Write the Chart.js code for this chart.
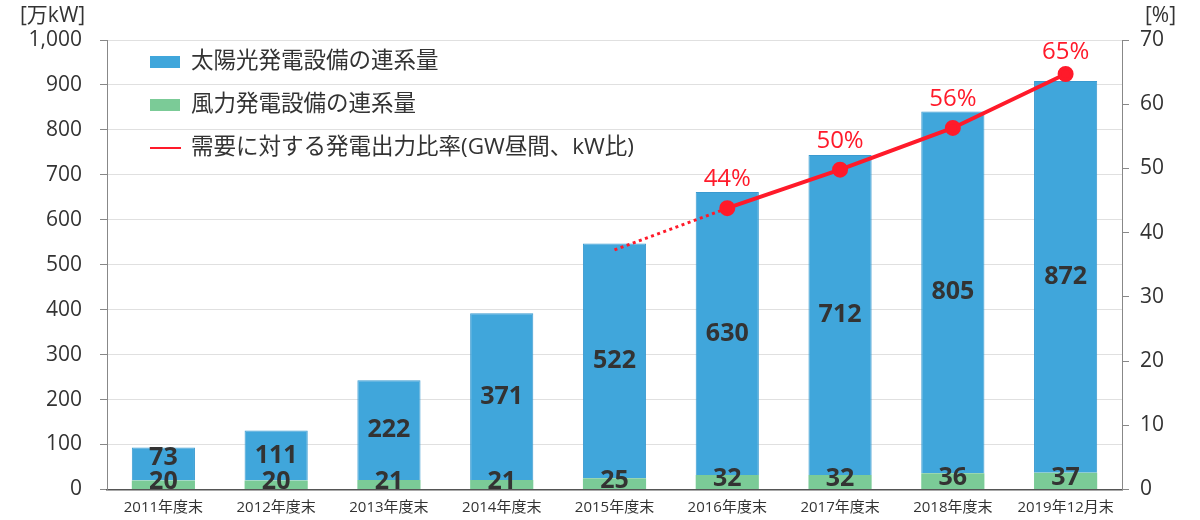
<!DOCTYPE html>
<html>
<head>
<meta charset="utf-8">
<script src="https://cdn.jsdelivr.net/npm/chart.js@4/dist/chart.umd.min.js"></script>
<style>
  html, body { margin: 0; padding: 0; background: #fff; }
  #wrap { width: 1200px; height: 520px; position: relative; }
</style>
</head>
<body>
<div id="wrap"><canvas id="chart"></canvas></div>
<script>
const categories = ["2011年度末", "2012年度末", "2013年度末", "2014年度末", "2015年度末",
  "2016年度末", "2017年度末", "2018年度末", "2019年12月末"];
const solar = [73, 111, 222, 371, 522, 630, 712, 805, 872];
const wind = [20, 20, 21, 21, 25, 32, 32, 36, 37];
// ratio of output to demand; 2015 is only the start of the dotted part
const ratio = [null, null, null, null, 37.3, 43.8, 49.8, 56.3, 64.7];
const ratioLabels = [null, null, null, null, null, "44%", "50%", "56%", "65%"];
const leftTicks = [0, 100, 200, 300, 400, 500, 600, 700, 800, 900, 1000];
const rightTicks = [0, 10, 20, 30, 40, 50, 60, 70];

const FONT = "'Open Sans', 'Noto Sans CJK JP', sans-serif";
const BLUE = "#40a6db";
const GREEN = "#7bcb97";
const RED = "#ff1a2a";
const TEXT = "#333333";

const labelPlugin = {
  id: "labels",
  afterDatasetsDraw(chart) {
    const ctx = chart.ctx;
    const windMeta = chart.getDatasetMeta(1);
    const solarMeta = chart.getDatasetMeta(0);
    ctx.save();
    ctx.fillStyle = TEXT;
    ctx.font = "bold 25px " + FONT;
    ctx.textAlign = "center";
    ctx.textBaseline = "middle";
    windMeta.data.forEach((el, i) => {
      const wy = (el.y + el.base) / 2 - 3;
      ctx.fillText(String(wind[i]), el.x, wy);
      const s = solarMeta.data[i];
      const sy = Math.min((s.y + s.base) / 2, wy - 24);
      ctx.fillText(String(solar[i]), s.x, sy);
    });
    const lineMeta = chart.getDatasetMeta(2);
    ctx.fillStyle = RED;
    ctx.font = "24px " + FONT;
    lineMeta.data.forEach((p, i) => {
      if (!ratioLabels[i]) return;
      const y = Math.max(p.y - 29, chart.chartArea.top + 12);
      ctx.fillText(ratioLabels[i], p.x, y);
    });
    ctx.restore();
  },
  afterDraw(chart) {
    const ctx = chart.ctx;
    ctx.save();
    ctx.fillStyle = TEXT;
    ctx.font = "21px " + FONT;
    ctx.textBaseline = "middle";
    ctx.textAlign = "left";
    ctx.fillText("[万kW]", 20, 16);
    ctx.fillText("[%]", 1145, 16);
    // legend
    const ds = chart.data.datasets;
    const rows = [62, 105, 148];
    ctx.font = "22.5px " + FONT;
    [0, 1, 2].forEach((k, r) => {
      const y = rows[r];
      if (k < 2) {
        ctx.fillStyle = ds[k].backgroundColor;
        ctx.fillRect(150, y - 6, 30, 12);
      } else {
        ctx.strokeStyle = RED;
        ctx.lineWidth = 2;
        ctx.beginPath();
        ctx.moveTo(150, y);
        ctx.lineTo(181, y);
        ctx.stroke();
      }
      ctx.fillStyle = TEXT;
      ctx.fillText(ds[k].label, 191, y);
    });
    ctx.restore();
  }
};

new Chart(document.getElementById("chart"), {
  type: "bar",
  data: {
    labels: categories,
    datasets: [
      {
        label: "太陽光発電設備の連系量",
        data: solar,
        backgroundColor: BLUE,
        borderColor: "#3a9ad0",
        borderWidth: 1,
        stack: "s",
        order: 2,
        barPercentage: 0.56,
        categoryPercentage: 1
      },
      {
        label: "風力発電設備の連系量",
        data: wind,
        backgroundColor: GREEN,
        stack: "s",
        order: 1,
        barPercentage: 0.56,
        categoryPercentage: 1
      },
      {
        type: "line",
        label: "需要に対する発電出力比率(GW昼間、kW比)",
        data: ratio,
        yAxisID: "y1",
        borderColor: RED,
        backgroundColor: RED,
        borderWidth: 4,
        pointRadius: ratio.map((v, i) => (i === 4 ? 0 : 6)),
        pointHoverRadius: 6,
        order: 0,
        segment: {
          borderDash: (c) => (c.p0DataIndex === 4 ? [3, 3.5] : undefined),
          borderWidth: (c) => (c.p0DataIndex === 4 ? 3 : 4)
        }
      }
    ]
  },
  options: {
    responsive: true,
    maintainAspectRatio: false,
    animation: false,
    layout: { padding: { top: 40, left: 0, right: 0, bottom: -2 } },
    plugins: { legend: { display: false }, tooltip: { enabled: false } },
    scales: {
      x: {
        stacked: true,
        grid: { display: false, drawTicks: false },
        border: { color: "#555", width: 1.5 },
        ticks: { color: TEXT, font: { family: FONT, size: 15 }, padding: 9, maxRotation: 0 },
        afterFit: (s) => { s.height = 29; }
      },
      y: {
        stacked: true,
        min: 0,
        max: 1000,
        afterBuildTicks: (s) => { s.ticks = leftTicks.map((v) => ({ value: v })); },
        grid: { color: "#e0e0e0", tickColor: "#888", tickLength: 7 },
        border: { color: "#888" },
        ticks: {
          color: TEXT,
          font: { family: FONT, size: 21 },
          padding: 18,
          callback: (v) => v.toLocaleString("en-US")
        },
        afterFit: (s) => { s.width = 107; }
      },
      y1: {
        position: "right",
        min: 0,
        max: 70,
        afterBuildTicks: (s) => { s.ticks = rightTicks.map((v) => ({ value: v })); },
        grid: { drawOnChartArea: false, tickColor: "#888", tickLength: 7 },
        border: { color: "#888" },
        ticks: { color: TEXT, font: { family: FONT, size: 21 }, padding: 11 },
        afterFit: (s) => { s.width = 78; }
      }
    }
  },
  plugins: [labelPlugin]
});
</script>
</body>
</html>
